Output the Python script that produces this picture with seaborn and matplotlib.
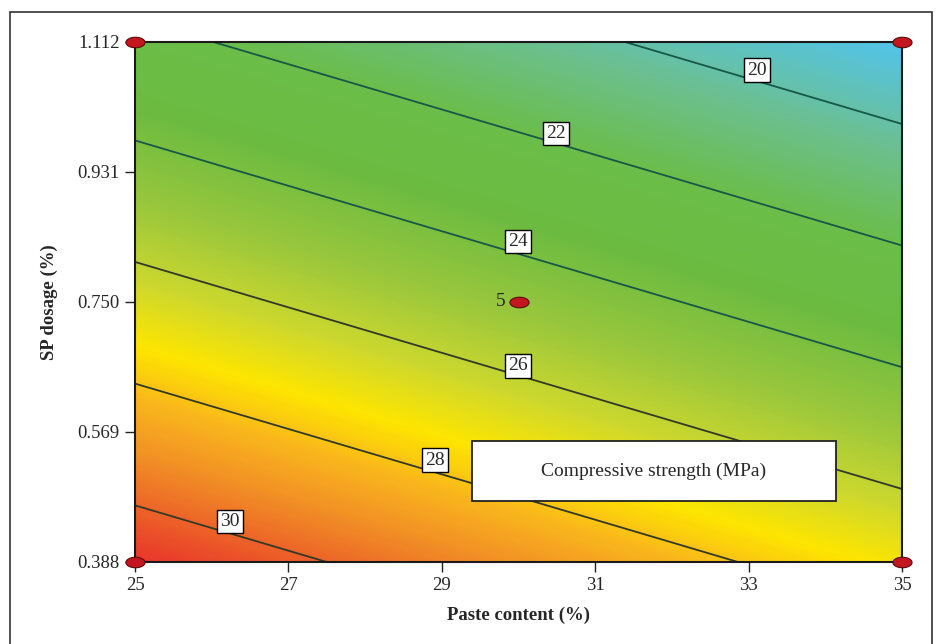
import numpy as np
import pandas as pd
import matplotlib.pyplot as plt
from matplotlib.colors import LinearSegmentedColormap
from matplotlib.patches import Rectangle
import seaborn as sns

# design factors (grid nodes) and strength at those nodes
paste = [25, 30, 35]
sp_dose = [0.388, 0.750, 1.112]
strength = [
    [30.93, 29.07, 27.20],   # SP = 0.388
    [26.66, 24.79, 22.93],   # SP = 0.750
    [22.38, 20.52, 18.65],   # SP = 1.112
]

levels = [20, 22, 24, 26, 28, 30]
# where the level labels sit (paste, SP)
label_pos = [(33.11, 1.073), (30.49, 0.985), (29.99, 0.834),
             (29.99, 0.661), (28.91, 0.530), (26.24, 0.444)]

# design points
pt_paste = [25, 35, 25, 35, 30]
pt_sp = [0.388, 0.388, 1.112, 1.112, 0.750]

xticks = [25, 27, 29, 31, 33, 35]
yticks = [0.388, 0.569, 0.750, 0.931, 1.112]
ytick_labels = ["0.388", "0.569", "0.750", "0.931", "1.112"]

# colour stops (strength value -> colour)
stop_vals = [18.65, 20.5, 22.0, 23.5, 25.0, 26.3, 27.4, 28.3, 29.3, 30.93]
stop_cols = ["#52c4ec", "#6cbf8c", "#6abd48", "#6cbb40", "#98c63c",
             "#cbd72e", "#fde500", "#f9b51c", "#f08a26", "#e8342a"]

sns.set_style("ticks")
plt.rcParams['font.family'] = ['Liberation Serif', 'DejaVu Serif']

vmin, vmax = stop_vals[0], stop_vals[-1]
cmap = LinearSegmentedColormap.from_list(
    "strength", [((v - vmin) / (vmax - vmin), c) for v, c in zip(stop_vals, stop_cols)])

X, Y = np.meshgrid(paste, sp_dose)
Z = np.array(strength)

fig = plt.figure(figsize=(9.38, 6.44), dpi=100)
ax = fig.add_axes([135 / 938, 82 / 644, 767 / 938, 520 / 644])

ax.contourf(X, Y, Z, levels=np.linspace(18.5, 31.1, 300), cmap=cmap,
            vmin=vmin, vmax=vmax, zorder=1)
line_cols = ["#17574a", "#17574a", "#17574a", "#33392a", "#33392a", "#33392a"]
ax.contour(X, Y, Z, levels=levels, colors=line_cols, linewidths=1.3, zorder=2)

for lev, (px, py) in zip(levels, label_pos):
    ax.text(px, py, str(lev), ha='center', va='center', fontsize=14, zorder=4,
            bbox=dict(facecolor='white', edgecolor='black', pad=2.2, linewidth=1))

# caption box
ax.add_patch(Rectangle((0.4394, 0.1173), 0.4746, 0.1154, transform=ax.transAxes,
                       facecolor='white', edgecolor='#222222', linewidth=1.3, zorder=4))
ax.text(0.4394 + 0.4746 / 2, 0.1173 + 0.1154 / 2, "Compressive strength (MPa)",
        transform=ax.transAxes, ha='center', va='center', fontsize=14, zorder=5)

# design points
t = np.linspace(0, 2 * np.pi, 40)
ellipse = list(zip(np.cos(t), 0.55 * np.sin(t)))
pts = pd.DataFrame({"paste": pt_paste, "sp": pt_sp})
sns.scatterplot(data=pts, x="paste", y="sp", marker=ellipse, s=190, color="#c3161f",
                edgecolor="#5a0a0a", linewidth=0.8, ax=ax, clip_on=False, zorder=6)
ax.annotate("5", (30, 0.750), xytext=(-13, 0), textcoords='offset points',
            ha='center', va='center', fontsize=14, zorder=6)

ax.set_xlim(25, 35)
ax.set_ylim(0.388, 1.112)
ax.set_xticks(xticks)
ax.set_yticks(yticks)
ax.set_yticklabels(ytick_labels)
ax.tick_params(axis='both', labelsize=13.5, length=7, width=1, color='#222222', pad=4)
ax.set_xlabel("Paste content (%)", fontsize=13.5, fontweight='bold', labelpad=9)
ax.set_ylabel("SP dosage (%)", fontsize=13.5, fontweight='bold', labelpad=14)
for s in ax.spines.values():
    s.set_linewidth(1.5)
    s.set_color('#1a1a1a')
    s.set_zorder(3)

# outer frame of the figure
fig.patches.append(Rectangle((10 / 938, -0.05), 922 / 938, (632 / 644) + 0.05,
                             transform=fig.transFigure, fill=False,
                             edgecolor='#333333', linewidth=1.2))

fig.savefig("out.png", dpi=100)
